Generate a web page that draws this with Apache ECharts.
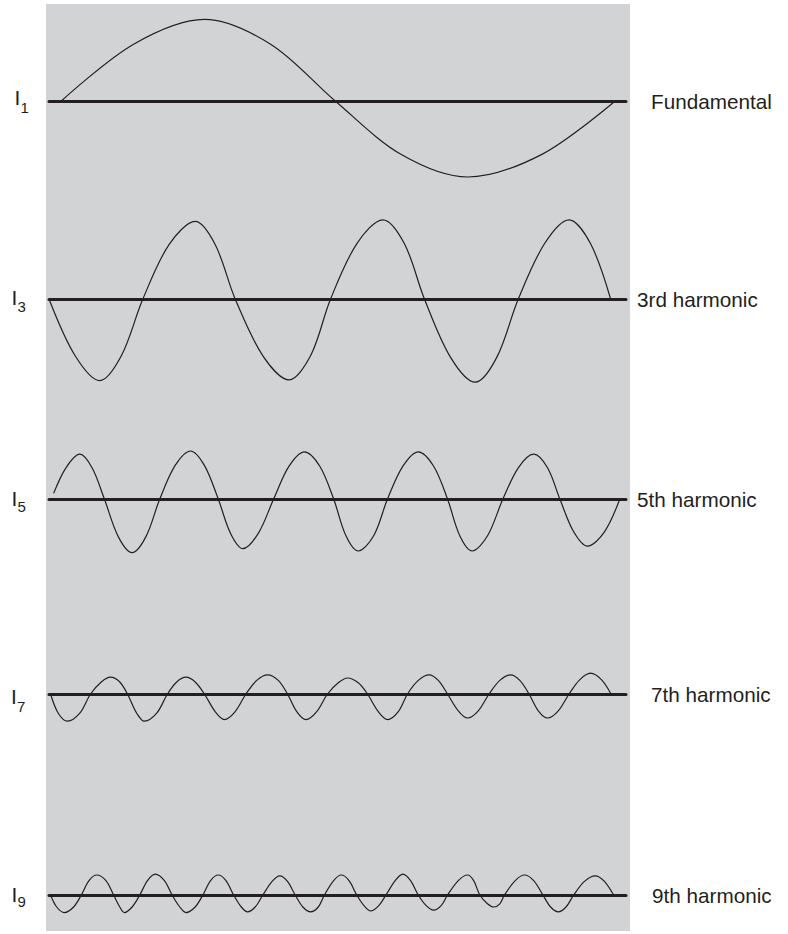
<!DOCTYPE html>
<html>
<head>
<meta charset="utf-8">
<title>Harmonics</title>
<script src="https://cdn.jsdelivr.net/npm/echarts@6/dist/echarts.min.js"></script>
<style>
  html, body { margin: 0; padding: 0; background: #fff; }
  #chart { width: 788px; height: 934px; }
</style>
</head>
<body>
<div id="chart"></div>
<script>
// harmonic orders and their names (right side labels)
const harmonicOrders = [1, 3, 5, 7, 9];
const harmonicNames = ['Fundamental', '3rd harmonic', '5th harmonic', '7th harmonic', '9th harmonic'];

// x = phase in degrees of the fundamental cycle, y = current in % of fundamental peak
// (zero crossings, peaks and mid-slope points)
const fundamental = [
  [0, 0], [47, 71], [93, 102], [136, 71], [178, 0], [221, -67], [264, -95], [312, -67], [360, 0]
];
const third = [
  [-8, 0], [9, -71], [25, -102], [39, -71], [53, 0], [70, 68], [87, 97], [100, 68],
  [113, 0], [131, -71], [148, -101], [162, -71], [175, 0], [192, 69], [209, 99], [223, 69],
  [236, 0], [253, -73], [269, -104], [283, -73], [297, 0], [314, 69], [330, 99], [344, 69], [357, 0]
];
const fifth = [
  [-5, 7], [3, 39], [12, 56], [20, 39], [28, 0], [37, -47], [46, -67], [55, -47],
  [64, 0], [74, 42], [84, 60], [93, 42], [102, 0], [110, -43], [118, -62], [128, -43],
  [138, 0], [148, 41], [158, 59], [168, 41], [177, 0], [185, -46], [193, -65], [203, -46],
  [212, 0], [222, 41], [232, 59], [242, 41], [251, 0], [259, -46], [267, -65], [277, -46],
  [287, 0], [297, 39], [307, 56], [316, 39], [324, 0], [333, -41], [342, -59], [353, -41], [363, 0]
];
const seventh = [
  [-7, 0], [-2, -24], [4, -34], [12, -24], [19, 0], [26, 15], [32, 21], [38, 15],
  [43, 0], [49, -24], [54, -34], [62, -24], [69, 0], [75, 15], [81, 21], [87, 15],
  [93, 0], [100, -22], [106, -32], [113, -22], [120, 0], [127, 17], [134, 24], [141, 17],
  [147, 0], [153, -22], [159, -32], [166, -22], [173, 0], [180, 14], [186, 20], [193, 14],
  [199, 0], [206, -22], [212, -32], [219, -22], [225, 0], [232, 17], [239, 24], [245, 17],
  [251, 0], [258, -21], [264, -30], [271, -21], [278, 0], [285, 17], [292, 24], [298, 17],
  [304, 0], [310, -21], [316, -30], [323, -21], [330, 0], [337, 18], [344, 26], [351, 18], [357, 1]
];
const ninth = [
  [-7, 0], [-3, -15], [2, -22], [8, -15], [13, 0], [18, 18], [23, 25], [29, 18],
  [34, 0], [38, -15], [41, -22], [46, -15], [51, 0], [56, 18], [61, 26], [67, 18],
  [72, 0], [77, -15], [81, -22], [87, -15], [92, 0], [97, 18], [102, 25], [107, 18],
  [112, 0], [117, -15], [121, -21], [126, -15], [131, 0], [137, 17], [142, 24], [147, 17],
  [152, 0], [157, -15], [162, -21], [167, -15], [171, 0], [177, 18], [182, 25], [187, 18],
  [192, 0], [197, -14], [201, -20], [206, -14], [211, 0], [217, 18], [222, 26], [227, 18],
  [232, 0], [237, -13], [242, -19], [247, -13], [251, 0], [258, 18], [264, 25], [268, 18],
  [272, 0], [277, -11], [281, -15], [285, -11], [288, 0], [295, 18], [301, 25], [307, 18],
  [313, 0], [318, -15], [323, -21], [328, -15], [333, 0], [340, 17], [347, 24], [353, 17], [359, 0]
];
const waves = [fundamental, third, fifth, seventh, ninth];

// layout
const rowCenters = [101, 299, 499, 694, 895];
const leftLabelX = [14.5, 11.5, 11.5, 11, 11.5];
const leftLabelDy = [-3.5, -2, -0.5, 2.5, -1];
const subLabelDy = [6, 7, 7.5, 12.5, 6];
const rightLabelX = [651, 637, 637, 651, 652];
const ink = '#231f20';
const font = '"Liberation Sans", Arial, sans-serif';

const grids = [], xAxes = [], yAxes = [], series = [];
const graphics = [{
  type: 'rect', z: -10,
  shape: {x: 46, y: 4, width: 584, height: 927},
  style: {fill: '#d1d3d4'}
}];

waves.forEach((wave, i) => {
  const c = rowCenters[i];
  // 0.8 px per unit; curves are not clipped so they can leave the small grid box
  grids.push({left: 49, width: 577, top: c - 35, height: 70});
  xAxes.push({
    type: 'value', gridIndex: i, min: -8, max: 367,
    axisLine: {show: true, onZero: true, lineStyle: {color: ink, width: 3}},
    axisTick: {show: false}, axisLabel: {show: false}, splitLine: {show: false}
  });
  yAxes.push({type: 'value', gridIndex: i, min: -43.75, max: 43.75, show: false});
  // smooth 1/3 ~ catmull-rom for evenly spaced points
  series.push({
    type: 'line', name: harmonicNames[i], xAxisIndex: i, yAxisIndex: i,
    data: wave, smooth: 0.33, showSymbol: false, clip: false, silent: true,
    lineStyle: {color: ink, width: 1.2}
  });

  graphics.push({
    type: 'text', x: leftLabelX[i], y: c + leftLabelDy[i],
    style: {text: 'I', fontSize: 21, fontFamily: font, fill: ink, verticalAlign: 'middle'}
  });
  graphics.push({
    type: 'text', x: leftLabelX[i] + 6, y: c + subLabelDy[i],
    style: {text: String(harmonicOrders[i]), fontSize: 15, fontFamily: font, fill: ink, verticalAlign: 'middle'}
  });
  graphics.push({
    type: 'text', x: rightLabelX[i], y: c,
    style: {text: harmonicNames[i], fontSize: 20.7, fontFamily: font, fill: ink, verticalAlign: 'middle'}
  });
});

const chart = echarts.init(document.getElementById('chart'), null, {renderer: 'svg'});
chart.setOption({
  animation: false,
  backgroundColor: '#fff',
  grid: grids,
  xAxis: xAxes,
  yAxis: yAxes,
  series: series,
  graphic: graphics
});
</script>
</body>
</html>
